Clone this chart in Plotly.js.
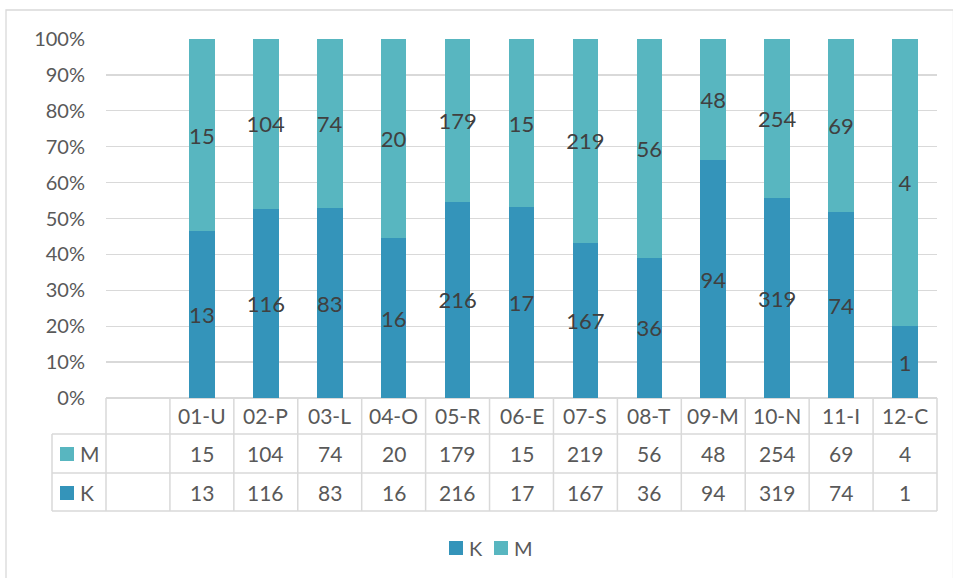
<!DOCTYPE html>
<html>
<head>
<meta charset="utf-8">
<script src="https://cdn.plot.ly/plotly-3.0.1.min.js"></script>
<style>
  html, body { margin: 0; padding: 0; background: #fff; }
  #chart { width: 953px; height: 578px; }
</style>
</head>
<body>
<div id="chart"></div>
<script>
const categories = ['01-U','02-P','03-L','04-O','05-R','06-E','07-S','08-T','09-M','10-N','11-I','12-C'];
const kValues = [13,116,83,16,216,17,167,36,94,319,74,1];
const mValues = [15,104,74,20,179,15,219,56,48,254,69,4];
const seriesNames = ['K','M'];
const colorK = '#3494ba';
const colorM = '#58b6c0';

const FONT = 'Lato, "Open Sans", sans-serif';
const TXT = '#595959';
const LBL = '#404040';
const GRID = '#d9d9d9';

// Layout geometry (pixels -> paper)
const W = 953, H = 578;
const L = 106, R = 16, T = 39, B = 180;
const PW = W - L - R, PH = H - T - B;
const px = v => (v - L) / PW;
const py = v => (H - B - v) / PH;

const nSlots = categories.length + 1; // one blank slot at the left
const slotPaper = i => i / nSlots;     // boundary i in paper coords

const traces = [
  {
    type: 'bar', name: seriesNames[0], x: categories, y: kValues,
    marker: { color: colorK },
    text: kValues.map(String), textposition: 'inside', insidetextanchor: 'middle',
    constraintext: 'none', textangle: 0,
    textfont: { family: FONT, size: 22, color: LBL },
    hoverinfo: 'x+y+name', showlegend: false
  },
  {
    type: 'bar', name: seriesNames[1], x: categories, y: mValues,
    marker: { color: colorM },
    text: mValues.map(String), textposition: 'inside', insidetextanchor: 'middle',
    constraintext: 'none', textangle: 0,
    textfont: { family: FONT, size: 22, color: LBL },
    hoverinfo: 'x+y+name', showlegend: false
  }
];

const rowHeaderTop = py(398), rowMTop = py(434), rowKTop = py(473), rowBottom = py(511);
const lineStyle = { color: GRID, width: 1.5 };
const shapes = [];
// chart border
shapes.push({ type: 'rect', xref: 'paper', yref: 'paper', x0: px(6), x1: px(953.5), y0: py(10), y1: py(590), line: { color: GRID, width: 1.3 }, fillcolor: 'rgba(0,0,0,0)' });
// vertical table lines at each slot boundary
for (let i = 0; i <= nSlots; i++) {
  shapes.push({ type: 'line', xref: 'paper', yref: 'paper', x0: slotPaper(i), x1: slotPaper(i), y0: rowHeaderTop, y1: rowBottom, line: lineStyle });
}
// left legend column line
shapes.push({ type: 'line', xref: 'paper', yref: 'paper', x0: px(52), x1: px(52), y0: rowMTop, y1: rowBottom, line: lineStyle });
// horizontal table lines
[rowMTop, rowKTop, rowBottom].forEach(y => {
  shapes.push({ type: 'line', xref: 'paper', yref: 'paper', x0: px(52), x1: 1, y0: y, y1: y, line: lineStyle });
});
// row legend swatches
shapes.push({ type: 'rect', xref: 'paper', yref: 'paper', x0: px(60), x1: px(74), y0: py(447), y1: py(461), fillcolor: colorM, line: { width: 0 } });
shapes.push({ type: 'rect', xref: 'paper', yref: 'paper', x0: px(60), x1: px(74), y0: py(486), y1: py(500), fillcolor: colorK, line: { width: 0 } });
// bottom legend swatches
shapes.push({ type: 'rect', xref: 'paper', yref: 'paper', x0: px(449), x1: px(463), y0: py(541), y1: py(555), fillcolor: colorK, line: { width: 0 } });
shapes.push({ type: 'rect', xref: 'paper', yref: 'paper', x0: px(494), x1: px(508), y0: py(541), y1: py(555), fillcolor: colorM, line: { width: 0 } });

const annotations = [];
const tableFont = { family: FONT, size: 21, color: TXT };
const yHeader = py(416), yM = py(453.5), yK = py(492);
categories.forEach((c, i) => {
  annotations.push({ xref: 'x', yref: 'paper', x: c, y: yHeader, text: c, showarrow: false, font: tableFont, yanchor: 'middle' });
  annotations.push({ xref: 'x', yref: 'paper', x: c, y: yM, text: String(mValues[i]), showarrow: false, font: tableFont, yanchor: 'middle' });
  annotations.push({ xref: 'x', yref: 'paper', x: c, y: yK, text: String(kValues[i]), showarrow: false, font: tableFont, yanchor: 'middle' });
});
annotations.push({ xref: 'paper', yref: 'paper', x: px(78), y: yM, text: seriesNames[1], showarrow: false, font: tableFont, xanchor: 'left', yanchor: 'middle' });
annotations.push({ xref: 'paper', yref: 'paper', x: px(78), y: yK, text: seriesNames[0], showarrow: false, font: tableFont, xanchor: 'left', yanchor: 'middle' });
// bottom legend text
const legFont = { family: FONT, size: 20, color: TXT };
annotations.push({ xref: 'paper', yref: 'paper', x: px(467), y: py(548), text: seriesNames[0], showarrow: false, font: legFont, xanchor: 'left', yanchor: 'middle' });
annotations.push({ xref: 'paper', yref: 'paper', x: px(512), y: py(548), text: seriesNames[1], showarrow: false, font: legFont, xanchor: 'left', yanchor: 'middle' });

const layout = {
  width: W, height: H,
  margin: { l: L, r: R, t: T, b: B, pad: 0 },
  paper_bgcolor: '#fff', plot_bgcolor: '#fff',
  barmode: 'stack', barnorm: 'percent', bargap: 0.6,
  showlegend: false,
  font: { family: FONT, color: TXT },
  xaxis: {
    type: 'category', range: [-1.5, categories.length - 0.5],
    showticklabels: false, showgrid: false, zeroline: false, showline: false, ticks: '',
    fixedrange: true
  },
  yaxis: {
    range: [0, 100], dtick: 10, ticksuffix: '%',
    showgrid: true, gridcolor: GRID, gridwidth: 1.3,
    zeroline: true, zerolinecolor: GRID, zerolinewidth: 1.5,
    showline: false, ticks: '', ticklabelstandoff: 20,
    tickfont: { family: FONT, size: 20, color: TXT },
    fixedrange: true
  },
  shapes: shapes,
  annotations: annotations
};

Plotly.newPlot('chart', traces, layout, { displayModeBar: false, staticPlot: true });
</script>
</body>
</html>
